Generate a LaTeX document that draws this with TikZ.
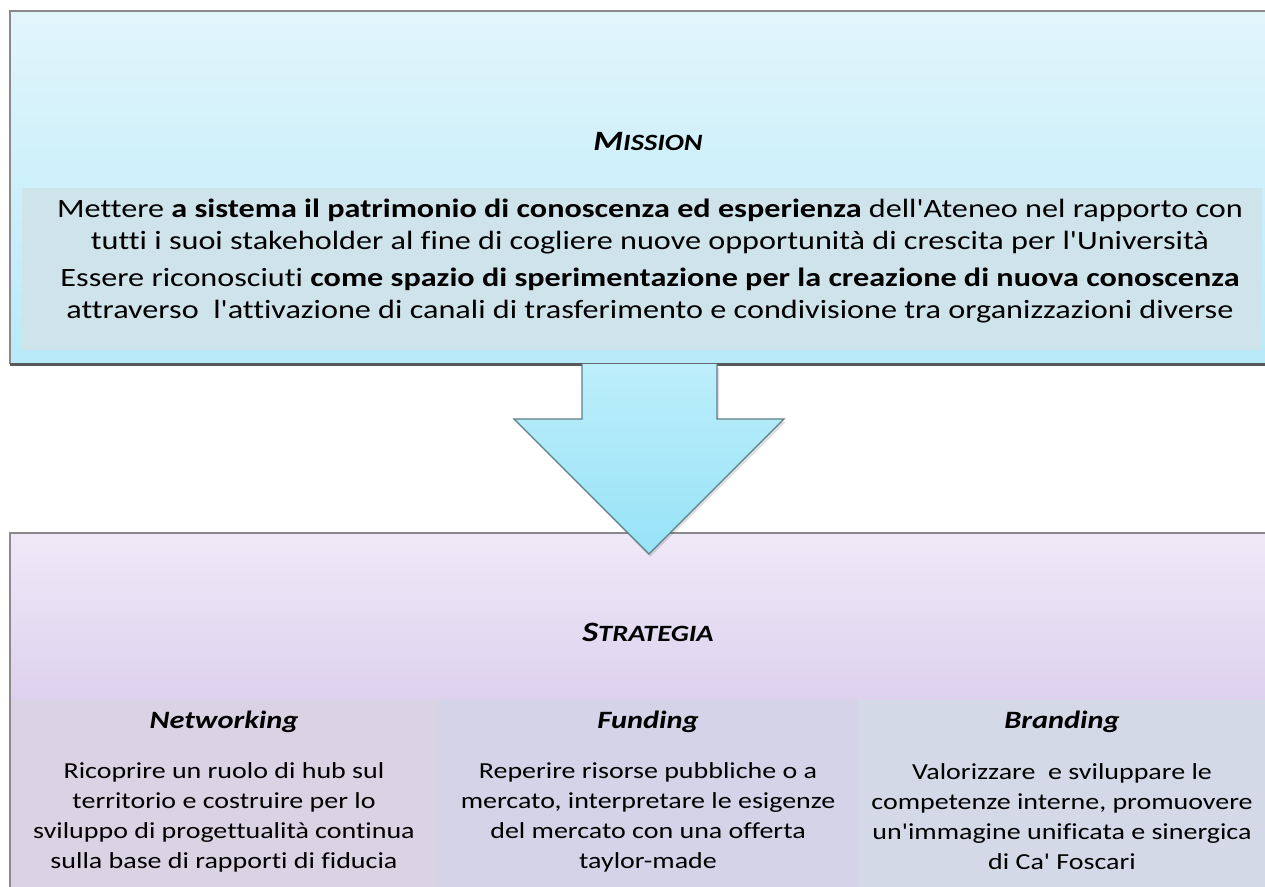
\documentclass[tikz,border=0pt]{standalone}
\usepackage{fontspec}
\newfontfamily\calfont{Carlito}[Ligatures=NoCommon, FakeStretch=1.22]
\definecolor{topA}{HTML}{E2F5FB}
\definecolor{topB}{HTML}{B8EAF9}
\definecolor{bandM}{HTML}{CFE3EB}
\definecolor{botA}{HTML}{EFE9F7}
\definecolor{botB}{HTML}{DDD1EE}
\definecolor{colN}{HTML}{D9D3E3}
\definecolor{colF}{HTML}{D4D3E7}
\definecolor{colB}{HTML}{D4D9E7}
\definecolor{arrA}{HTML}{BDEEFB}
\definecolor{arrB}{HTML}{97E3F7}
\definecolor{arrLine}{HTML}{5E7F88}
\definecolor{edge}{HTML}{8A8A8A}
\tikzset{
  title/.style={font=\calfont\fontsize{21}{24}\selectfont\bfseries\itshape, inner sep=0pt},
  mtext/.style={font=\calfont\fontsize{19.8}{24}\selectfont, align=center, inner sep=0pt},
  ctitle/.style={font=\calfont\fontsize{18.7}{22}\selectfont\bfseries\itshape, inner sep=0pt},
  ctext/.style={font=\calfont\fontsize{17.2}{22.5}\selectfont, align=center, inner sep=0pt},
}
\begin{document}
\begin{tikzpicture}[x=0.75pt,y=-0.75pt]
\useasboundingbox (0,0) rectangle (1265,887);
% top box
\shade[top color=topA, bottom color=topB] (10,11) rectangle (1270,364);
\draw[edge, line width=0.8pt] (10,364) -- (10,11) -- (1270,11);
\draw[black!65, line width=1.6pt] (10,364.5) -- (1270,364.5);
\fill[bandM] (22,188) rectangle (1262,350);
\node[title] (mission) at (648,142) {M\fontsize{17.5}{20}\selectfont ISSION};
\node[mtext] (m1) at (650,227) {Mettere \textbf{a sistema il patrimonio di conoscenza ed esperienza} dell'Ateneo nel rapporto con\\tutti i suoi stakeholder al fine di cogliere nuove opportunità di crescita per l'Università};
\node[mtext] (m2) at (650,296) {Essere riconosciuti \textbf{come spazio di sperimentazione per la creazione di nuova conoscenza}\\attraverso\ \ l'attivazione di canali di trasferimento e condivisione tra organizzazioni diverse};
% bottom box
\shade[top color=botA, bottom color=botB] (10,533) rectangle (1270,700);
\draw[edge, line width=0.8pt] (10,890) -- (10,533) -- (1270,533);
\fill[colN] (10.5,700) rectangle (438,890);
\fill[colF] (438,700) rectangle (858,890);
\fill[colB] (858,700) rectangle (1270,890);
\node[title] (strategia) at (648,632) {S\fontsize{17.5}{20}\selectfont TRATEGIA};
\node[ctitle] (net) at (224,722) {Networking};
\node[ctitle] (fund) at (648,722) {Funding};
\node[ctitle] (brand) at (1062,722) {Branding};
\node[ctext] (nett) at (224,817) {Ricoprire un ruolo di hub sul\\territorio e costruire per lo\\sviluppo di progettualità continua\\sulla base di rapporti di fiducia};
\node[ctext] (fundt) at (648,817) {Reperire risorse pubbliche o a\\mercato, interpretare le esigenze\\del mercato con una offerta\\taylor-made};
\node[ctext] (brandt) at (1062,817) {Valorizzare\ \ e sviluppare le\\competenze interne, promuovere\\un'immagine unificata e sinergica\\di Ca' Foscari};
% arrow
\fill[black, opacity=0.12] (584,368) -- (584,422) -- (517,422) -- (650,557) -- (786,422) -- (719,422) -- (719,368) -- cycle;
\shade[top color=arrA, bottom color=arrB] (582,364) -- (582,419) -- (514,419) -- (649,554) -- (784,419) -- (717,419) -- (717,364) -- cycle;
\draw[arrLine, line width=1pt, line join=miter] (582,364) -- (582,419) -- (514,419) -- (649,554) -- (784,419) -- (717,419) -- (717,364);
\end{tikzpicture}
\end{document}
